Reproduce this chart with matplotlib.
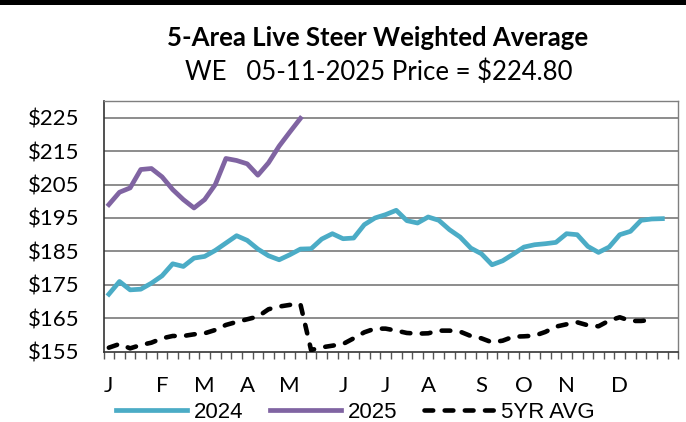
import numpy as np
import matplotlib.pyplot as plt
from matplotlib.patches import Rectangle

# weekly series (54 weekly categories on the x axis)
y2024 = [172.2, 176.0, 173.5, 173.7, 175.5, 177.7, 181.3, 180.5, 183.0, 183.5,
         185.3, 187.5, 189.7, 188.3, 185.7, 183.7, 182.5, 184.0, 185.7, 185.8,
         188.7, 190.3, 188.8, 189.0, 193.0, 195.0, 196.0, 197.3, 194.2, 193.5,
         195.3, 194.3, 191.5, 189.3, 186.0, 184.3, 181.0, 182.2, 184.2, 186.3,
         187.0, 187.3, 187.7, 190.3, 190.0, 186.5, 184.7, 186.3, 190.0, 191.0,
         194.3, 194.7, 194.8]
y2025 = [199.0, 202.7, 204.0, 209.5, 209.8, 207.3, 203.5, 200.5, 198.0, 200.5,
         205.0, 212.8, 212.2, 211.2, 207.8, 211.5, 216.5, 220.7, 224.8]
y5yr = [156.2, 157.3, 156.0, 157.0, 157.7, 159.0, 159.7, 159.7, 160.2, 160.5,
        161.5, 163.0, 163.9, 164.7, 165.5, 167.7, 168.5, 169.0, 169.2, 155.5,
        156.3, 156.8, 157.3, 159.0, 160.8, 161.9, 161.9, 161.3, 160.6, 160.4,
        160.5, 161.3, 161.3, 161.0, 159.7, 159.0, 157.8, 158.3, 159.5, 159.6,
        159.8, 160.9, 162.5, 163.2, 163.8, 162.9, 162.6, 164.3, 165.3, 164.2,
        164.2, 164.5]
n_weeks = 54
month_labels = ['J', 'F', 'M', 'A', 'M', 'J', 'J', 'A', 'S', 'O', 'N', 'D']
month_weeks = [0, 5, 9, 13, 17, 22, 26, 30, 35, 39, 43, 48]
y_ticks = [155, 165, 175, 185, 195, 205, 215, 225]

fig = plt.figure(figsize=(6.86, 4.22), dpi=100)
ax = fig.add_axes([0.1509, 0.1666, 0.8379, 0.5941])

# gridlines
for v in y_ticks[1:]:
    ax.axhline(v, color='#8c8c8c', lw=1.4, zorder=1)

ax.plot(range(len(y2024)), y2024, color='#4BACC6', lw=3.4,
        solid_joinstyle='round', label='2024', zorder=3)
ax.plot(range(len(y2025)), y2025, color='#8064A2', lw=3.4,
        solid_joinstyle='round', label='2025', zorder=3)
ax.plot(range(len(y5yr)), y5yr, color='black', lw=3.3, dashes=(1.9, 2.5),
        dash_capstyle='round', label='5YR AVG', zorder=3)

ax.set_xlim(-0.5, n_weeks - 0.5)
ax.set_ylim(155, 230)
ax.set_yticks(y_ticks)
ax.set_yticklabels([f'${v}' for v in y_ticks], family='Lato', fontsize=16)
ax.tick_params(axis='y', length=0, pad=17)

# category boundary ticks + month labels
ax.set_xticks(np.arange(n_weeks + 1) - 0.5)
ax.set_xticklabels([])
ax.tick_params(axis='x', direction='out', length=5, width=1, color='#555555')
for w, m in zip(month_weeks, month_labels):
    ax.text(w, -0.137, m, transform=ax.get_xaxis_transform(), ha='center',
            va='center', family='Lato', fontsize=16)

for side in ['top', 'right']:
    ax.spines[side].set_color('#7f7f7f')
    ax.spines[side].set_linewidth(1)
ax.spines['left'].set_color('#333333')
ax.spines['bottom'].set_color('#333333')
ax.spines['left'].set_linewidth(1.2)
ax.spines['bottom'].set_linewidth(1.2)

fig.text(0.55, 0.91, '5-Area Live Steer Weighted Average', ha='center',
         va='center', family='Lato', fontweight='bold', fontsize=18.5)
fig.text(0.552, 0.829, 'WE   05-11-2025 Price = $224.80', ha='center',
         va='center', family='Lato', fontsize=18.5)

fig.legend(loc='center', bbox_to_anchor=(0.518, 0.022), ncol=3, frameon=False,
           prop={'family': 'Liberation Sans', 'size': 16}, handlelength=3.2,
           handletextpad=0.3, columnspacing=1.2, borderpad=0)

# black band along top edge
fig.add_artist(Rectangle((0, 1 - 5 / 422), 1, 5 / 422, transform=fig.transFigure,
                         color='black', lw=0))

fig.savefig('out.png', dpi=100)
